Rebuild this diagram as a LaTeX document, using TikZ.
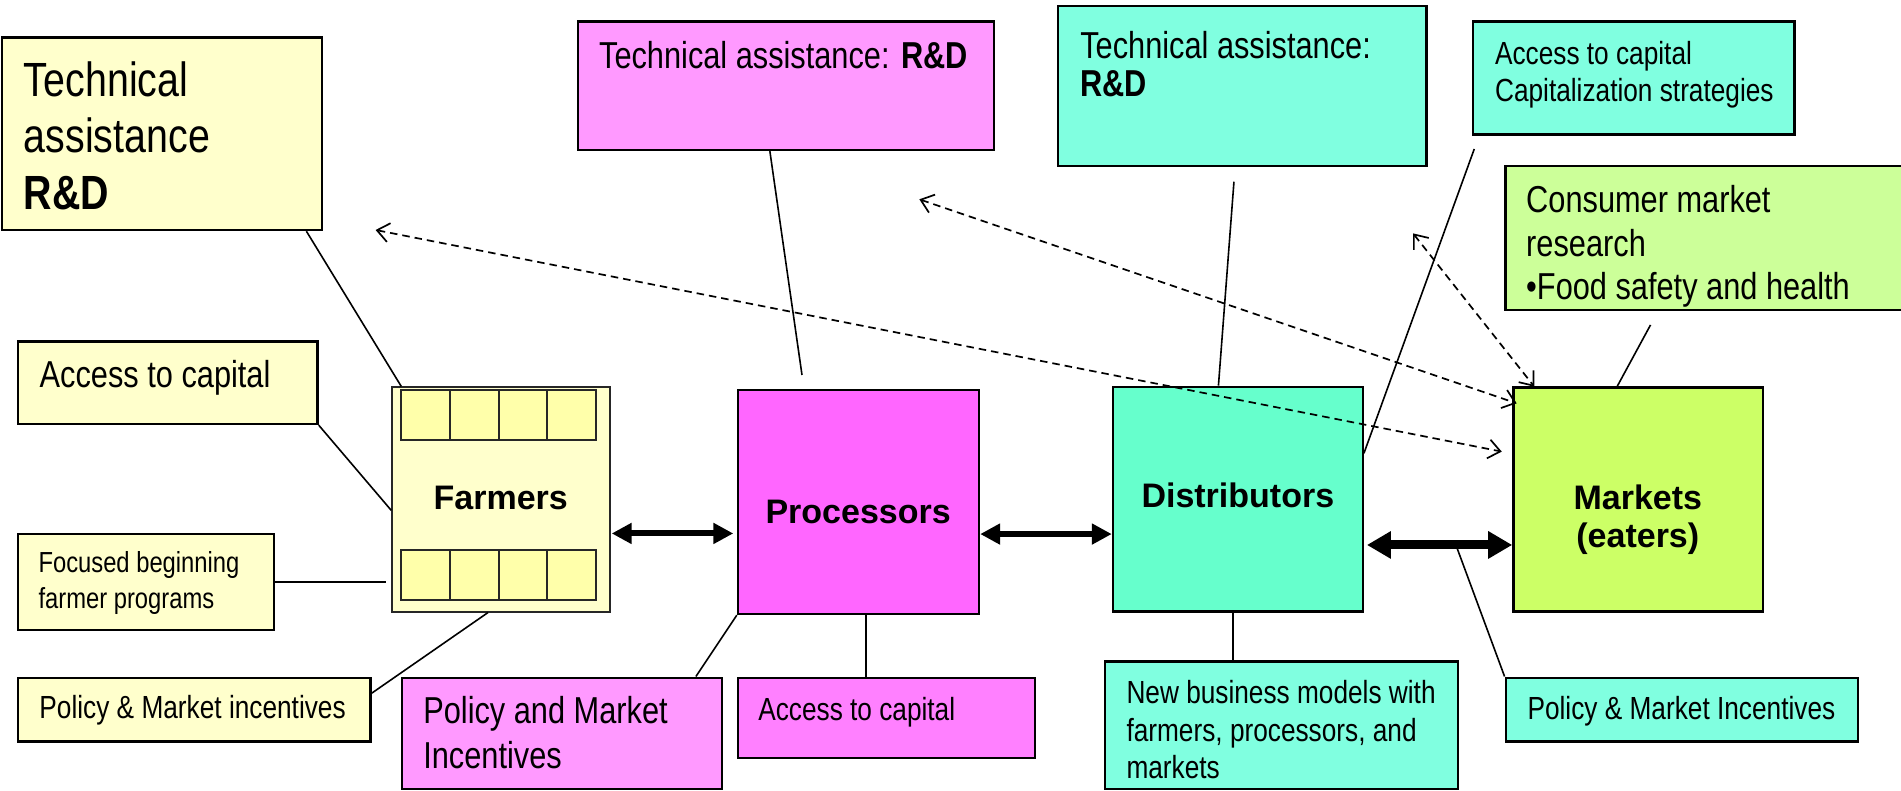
\documentclass[tikz,border=0pt]{standalone}
\usepackage{fontspec}
\setmainfont{Liberation Sans}
\newfontfamily\nar{Liberation Sans}[FakeStretch=0.82]
\usetikzlibrary{arrows.meta,fit,calc}
\definecolor{yelL}{HTML}{FFFFCC}
\definecolor{yelC}{HTML}{FFFFAA}
\definecolor{pinkL}{HTML}{FF99FF}
\definecolor{pinkM}{HTML}{FF80FF}
\definecolor{mag}{HTML}{FF66FF}
\definecolor{aqua}{HTML}{80FFE0}
\definecolor{aquaD}{HTML}{66FFCC}
\definecolor{greenL}{HTML}{CCFF99}
\definecolor{greenD}{HTML}{CCFF66}
\begin{document}
\begin{tikzpicture}[x=1.2124pt,y=-1.2124pt,
  bx/.style={draw=black,line width=2.4pt,inner sep=0pt},
  cell/.style={draw=black!85,line width=2pt,fill=yelC,inner sep=0pt},
  tL/.style={anchor=base west,inner sep=0pt,font=\nar\fontsize{48}{55}\selectfont},
  tM/.style={anchor=base west,inner sep=0pt,font=\nar\fontsize{37.5}{42}\selectfont},
  tS/.style={anchor=base west,inner sep=0pt,font=\nar\fontsize{32}{37}\selectfont},
  tF/.style={anchor=base west,inner sep=0pt,font=\nar\fontsize{29}{34}\selectfont},
  lab/.style={anchor=base,inner sep=0pt,font=\bfseries\fontsize{34}{40}\selectfont},
  cn/.style={line width=1.6pt},
  dsh/.style={line width=1.7pt,dash pattern=on 7.5pt off 5pt,
    arrows={Straight Barb[length=12pt,width=19pt]-Straight Barb[length=12pt,width=19pt]}},
  thk/.style={line width=6pt,arrows={Triangle[length=20pt,width=20pt]-Triangle[length=20pt,width=20pt]}},
  thkB/.style={line width=9pt,arrows={Triangle[length=24pt,width=26pt]-Triangle[length=24pt,width=26pt]}}]
\useasboundingbox[fill=white] (0,0) rectangle (1568,652);

% ---- boxes ----
\node[bx,fill=yelL,fit={(1.6,31) (265.8,189.7)}] (tafarm) {};
\node[bx,fill=pinkL,fit={(476.6,17.9) (819.9,123.7)}] (taproc) {};
\node[bx,fill=aqua,fit={(872.5,4.9) (1176.5,136.7)}] (tadist) {};
\node[bx,fill=aqua,fit={(1215.2,17.9) (1480.2,110.8)}] (capdist) {};
\node[bx,fill=greenL,fit={(1241.6,136.7) (1585,255.7)}] (consumer) {};
\node[bx,fill=yelL,fit={(14.7,281.8) (261.9,349.7)}] (accfarm) {};
\node[bx,fill=yelL,fit={(15,440.4) (226,519.6)}] (focused) {};
\node[bx,fill=yelL,fit={(15,559) (305.7,611.7)}] (polfarm) {};
\node[draw=black!85,line width=1.8pt,inner sep=0pt,fill=yelL,fit={(323.5,319.5) (503,504.5)}] (farmers) {};
\node[bx,fill=mag,fit={(608.7,321.7) (807.5,506.4)}] (processors) {};
\node[bx,fill=pinkL,fit={(331.4,559) (595.7,651)}] (polproc) {};
\node[bx,fill=pinkM,fit={(608.7,559) (853.5,625)}] (accproc) {};
\node[bx,fill=aquaD,fit={(918,319) (1124,504.5)}] (distributors) {};
\node[bx,fill=aqua,fit={(911.6,545.7) (1202.5,651)}] (newbiz) {};
\node[bx,fill=greenD,fit={(1248.3,319.5) (1454,504.5)}] (markets) {};
\node[bx,fill=aqua,fit={(1242,559) (1532.3,611.7)}] (polmkt) {};

% farmer cells
\foreach \i in {0,...,3}{
  \pgfmathsetmacro\xa{331+40.125*\i}
  \pgfmathsetmacro\xb{331+40.125*(\i+1)}
  \node[cell,fit={(\xa,321.7) (\xb,363)}] (ct\i) {};
  \node[cell,fit={(\xa,453.6) (\xb,495)}] (cb\i) {};
}

% ---- texts ----
\node[tL] (t1) at (19.6,80) {Technical};
\node[tL] (t2) at (19.6,125.5) {assistance};
\node[tL] (t3) at (19.6,173.2) {\bfseries R\&D};
\node[tM] (t4) at (494,56.4) {Technical assistance: \textbf{R\&D}};
\node[tM] (t5) at (890.9,48.5) {Technical assistance:};
\node[tM] (t6) at (890.9,80) {\bfseries R\&D};
\node[tS] (t7) at (1233,52.8) {Access to capital};
\node[tS] (t8) at (1233,83.9) {Capitalization strategies};
\node[tM] (t9) at (1258.7,175.4) {Consumer market};
\node[tM] (t10) at (1258.7,211.7) {research};
\node[tM] (t11) at (1258.7,247.4) {•Food safety and health};
\node[tM] (t12) at (32.6,319.5) {Access to capital};
\node[tF] (t13) at (31.6,472.3) {Focused beginning};
\node[tF] (t14) at (31.6,501.8) {farmer programs};
\node[tS] (t15) at (32.4,592.5) {Policy \& Market incentives};
\node[tM] (t16) at (349,596.6) {Policy and Market};
\node[tM] (t17) at (349,633.7) {Incentives};
\node[tS] (t18) at (625.3,593.9) {Access to capital};
\node[tS] (t19) at (929,580) {New business models with};
\node[tS] (t20) at (929,611.7) {farmers, processors, and};
\node[tS] (t21) at (929,641.8) {markets};
\node[tS] (t22) at (1259.8,593.3) {Policy \& Market Incentives};
\node[lab] (l1) at (413,420) {Farmers};
\node[lab] (l2) at (707.8,431.6) {Processors};
\node[lab] (l3) at (1021,419) {Distributors};
\node[lab] (l4) at (1350.9,420) {Markets};
\node[lab] (l5) at (1350.9,452) {(eaters)};

% ---- free-end coordinates ----
\coordinate (tpEnd) at (661.5,309.3);
\coordinate (tdStart) at (1017.8,149.9);
\coordinate (cdStart) at (1216,122.9);
\coordinate (csStart) at (1361.4,268);
\coordinate (mkArrow) at (1201.9,452.3);
\coordinate (d1a) at (309.8,189.7);
\coordinate (d1b) at (1238.7,372.5);
\coordinate (d2a) at (758.3,164.4);
\coordinate (d2b) at (1251,332.7);
\coordinate (d3a) at (1165.5,192.5);
\coordinate (d3b) at (1265.6,319);

% ---- connectors ----
\draw[cn] (tafarm.south -| 252.7,0) -- (farmers.north -| 331,0);
\draw[cn] (accfarm.south east) -- (farmers.west |- 0,421);
\draw[cn,shorten >=5.8pt] (focused.east |- 0,480) -- (farmers.west |- 0,480);
\draw[cn] (polfarm.east |- 0,571.7) -- (farmers.south -| 402.5,0);
\draw[cn] (taproc.south -| 635,0) -- (tpEnd);
\draw[cn] (processors.south west) -- (polproc.north -| 574,0);
\draw[cn] (processors.south -| 714.4,0) -- (accproc.north -| 714.4,0);
\draw[cn] (tdStart) -- (distributors.north -| 1005,0);
\draw[cn] (cdStart) -- (distributors.east |- 0,373.9);
\draw[cn] (distributors.south -| 1017,0) -- (newbiz.north -| 1017,0);
\draw[cn] (csStart) -- (markets.north -| 1334,0);
\draw[cn] (polmkt.north west) -- (mkArrow);

% ---- thick arrows ----
\draw[thk,shorten <=1pt,shorten >=3.5pt] (farmers.east |- 0,440) -- (processors.west |- 0,440);
\draw[thk] (processors.east |- 0,440.5) -- (distributors.west |- 0,440.5);
\draw[thkB,shorten <=3pt] (distributors.east |- 0,449.5) -- (markets.west |- 0,449.5);

% ---- dashed arrows ----
\draw[dsh] (d1a) -- (d1b);
\draw[dsh] (d2a) -- (d2b);
\draw[dsh] (d3a) -- (d3b);
\end{tikzpicture}
\end{document}
